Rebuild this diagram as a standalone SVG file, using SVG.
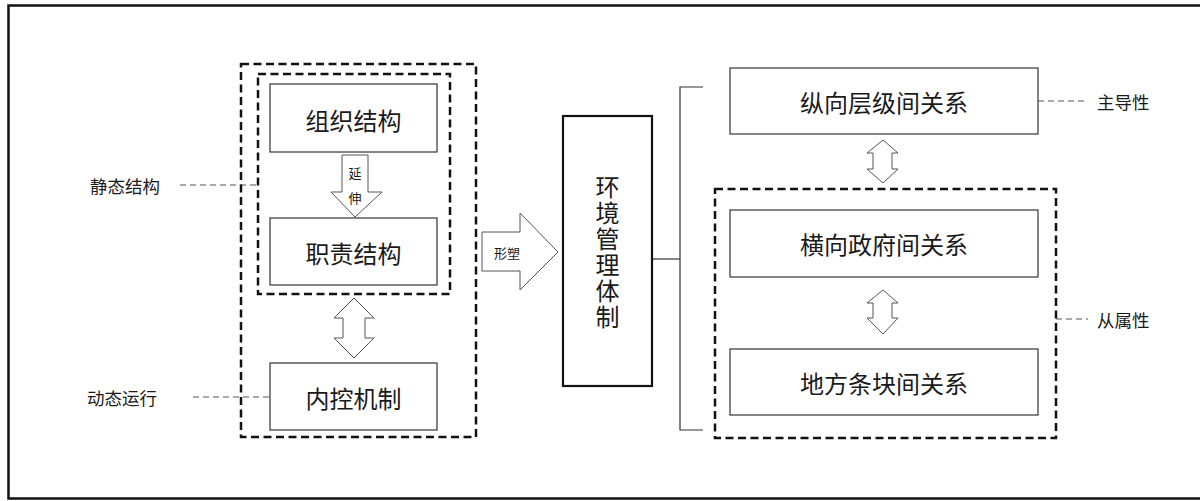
<svg xmlns="http://www.w3.org/2000/svg" width="1200" height="501" viewBox="0 0 1200 501">
<defs>
<style>
text{font-family:"Noto Sans CJK SC","Noto Sans",sans-serif;fill:#1a1a1a;}
.box{fill:#fff;stroke:#333;stroke-width:1.2;}
.big{font-size:24px;text-anchor:middle;dominant-baseline:central;}
.lbl{font-size:17.5px;dominant-baseline:central;}
.small{font-size:13px;text-anchor:middle;dominant-baseline:central;}
.dbox{fill:none;stroke:#111;stroke-width:2.5;stroke-dasharray:8,4.5;}
.dl{fill:none;stroke:#555;stroke-width:1.1;stroke-dasharray:6,4;}
.arr{fill:#fff;stroke:#555;stroke-width:1;}
.ln{fill:none;stroke:#333;stroke-width:1.2;}
.vert{font-size:24px;writing-mode:vertical-rl;letter-spacing:2px;dominant-baseline:central;}
</style>
</defs>
<rect x="8.5" y="5.5" width="1200" height="493" fill="#fff" stroke="#111" stroke-width="2.5"/>

<g id="connectors">
<line class="dl" x1="180" y1="185" x2="258" y2="185"/>
<line class="dl" x1="193" y1="397" x2="270" y2="397"/>
<line class="dl" x1="1038" y1="101" x2="1088" y2="101"/>
<line class="dl" x1="1056" y1="319" x2="1088" y2="319"/>
<polyline class="ln" points="703,87 680,87 680,430 703,430"/>
<line class="ln" x1="652" y1="259" x2="680" y2="259"/>
<path class="arr" d="M342,155 H368 V192 H382 L355,217 L331,192 H342 Z"/>
<path class="arr" d="M354,298 L374,318 H365 V338 H374 L354,358 L334,338 H343 V318 H334 Z"/>
<path class="arr" d="M883,140 L898,153 H892 V169 H898 L883,183 L867,169 H873 V153 H867 Z"/>
<path class="arr" d="M883,290 L898,303 H892 V318 H898 L883,334 L867,318 H873 V303 H867 Z"/>
<path class="arr" d="M482,232 H520 V213 L558,252 L520,290 V271 H482 Z"/>
<text class="small" x="355" y="172">延</text>
<text class="small" x="355" y="197">伸</text>
<text class="small" x="507" y="252">形塑</text>
</g>

<g id="left-outer"><rect class="dbox" x="241" y="64" width="235" height="373"/></g>
<g id="left-inner"><rect class="dbox" x="258" y="74" width="192" height="220"/></g>
<g id="right-group"><rect class="dbox" x="715" y="189" width="341" height="249"/></g>

<g id="zuzhi"><rect class="box" x="270" y="84" width="167" height="68"/><text class="big" x="353.5" y="119">组织结构</text></g>
<g id="zhize"><rect class="box" x="270" y="218" width="167" height="67"/><text class="big" x="353.5" y="252">职责结构</text></g>
<g id="neikong"><rect class="box" x="270" y="363" width="167" height="67"/><text class="big" x="353.5" y="397">内控机制</text></g>

<g id="huanjing"><rect x="563" y="116" width="89" height="270" fill="#fff" stroke="#111" stroke-width="2.2"/>
<text class="vert" x="607.5" y="175">环境管理体制</text>
</g>

<g id="zongxiang"><rect class="box" x="730" y="68" width="308" height="66"/><text class="big" x="884" y="101">纵向层级间关系</text></g>
<g id="hengxiang"><rect class="box" x="730" y="210" width="308" height="67"/><text class="big" x="884" y="243">横向政府间关系</text></g>
<g id="difang"><rect class="box" x="730" y="349" width="308" height="66"/><text class="big" x="884" y="382">地方条块间关系</text></g>

<g id="labels">
<text class="lbl" x="90" y="185">静态结构</text>
<text class="lbl" x="87" y="397">动态运行</text>
<text class="lbl" x="1097" y="101">主导性</text>
<text class="lbl" x="1097" y="319">从属性</text>
</g>
</svg>
